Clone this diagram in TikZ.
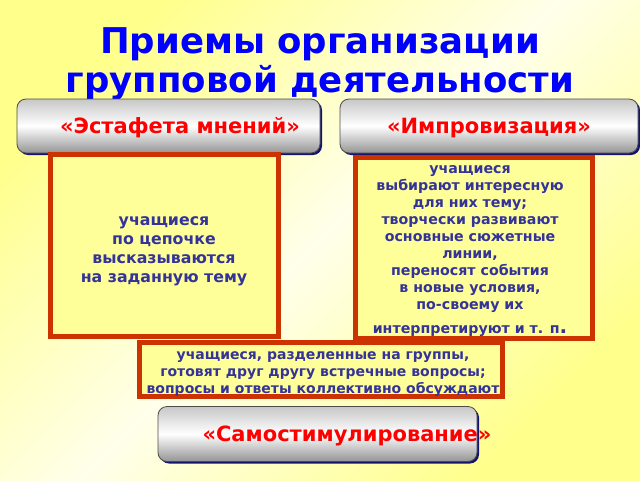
\documentclass[tikz,border=0pt]{standalone}
\usepackage{fontspec}
\setmainfont{DejaVu Sans}
\usetikzlibrary{shadows}

\definecolor{bgyellow}{RGB}{255,255,140}
\definecolor{boxfill}{RGB}{255,255,153}
\definecolor{boxred}{RGB}{204,51,0}
\definecolor{textblue}{RGB}{51,51,153}
\definecolor{titleblue}{RGB}{0,0,255}
\definecolor{labelred}{RGB}{255,0,0}
\definecolor{shadowblue}{RGB}{20,20,110}

\begin{document}
\begin{tikzpicture}[x=1pt, y=-1pt,
    button/.style={rectangle, rounded corners=9pt, draw=black!70, line width=0.8pt,
      top color=black!22, bottom color=black!42, middle color=white, inner sep=0pt,
      drop shadow={shadow xshift=2pt, shadow yshift=-2pt, fill=shadowblue, opacity=1}},
    buttontext/.style={font=\bfseries\fontsize{21}{24}\selectfont, text=labelred},
    methodbox/.style={rectangle, draw=boxred, line width=5pt, fill=boxfill, inner sep=0pt},
    boxtext/.style={font=\bfseries\fontsize{14.2}{17}\selectfont, text=textblue, align=center}]
    \useasboundingbox (0,0) rectangle (640,480);
    \shade [top color=bgyellow, bottom color=bgyellow, middle color=white!92!yellow, shading angle=45]
      (0,0) rectangle (640,480);

    % title
    \node [font=\bfseries\fontsize{35.5}{39}\selectfont, text=titleblue, align=center]
      (title) at (320,64) {Приемы организации\\групповой деятельности};

    % upper buttons
    \node [button, minimum width=303pt, minimum height=54pt] (estafeta) at (168.5,126) {};
    \node [buttontext] (estafetalabel) at (180,128) {«Эстафета мнений»};
    \node [button, minimum width=298pt, minimum height=54pt] (improv) at (489,126) {};
    \node [buttontext] (improvlabel) at (489,128) {«Импровизация»};

    % boxes
    \node [methodbox, minimum width=228pt, minimum height=182pt] (chainbox) at (164,245) {};
    \node [boxtext, font=\bfseries\fontsize{15.8}{19}\selectfont] (chaintext) at (164,251)
      {учащиеся\\по цепочке\\высказываются\\на заданную тему};
    \node [methodbox, minimum width=237pt, minimum height=181pt] (improvbox) at (473.5,247.5) {};
    \node [boxtext] (improvtext) at (470,251.5)
      {учащиеся\\выбирают интересную\\для них тему;\\творчески развивают\\основные сюжетные\\линии,\\переносят события\\в новые условия,\\по-своему их\\[7pt]интерпретируют и т. п{\fontsize{20}{20}\selectfont .}};
    \node [methodbox, minimum width=363pt, minimum height=54pt] (groupbox) at (321,369) {};
    \node [boxtext, font=\bfseries\fontsize{14}{17}\selectfont] (grouptext) at (323,374)
      {учащиеся, разделенные на группы,\\готовят друг другу встречные вопросы;\\вопросы и ответы коллективно обсуждают};

    % lower button
    \node [button, minimum width=319pt, minimum height=55pt] (selfstim) at (317.5,434) {};
    \node [buttontext] (selfstimlabel) at (347,436) {«Самостимулирование»};
  \end{tikzpicture}
\end{document}
